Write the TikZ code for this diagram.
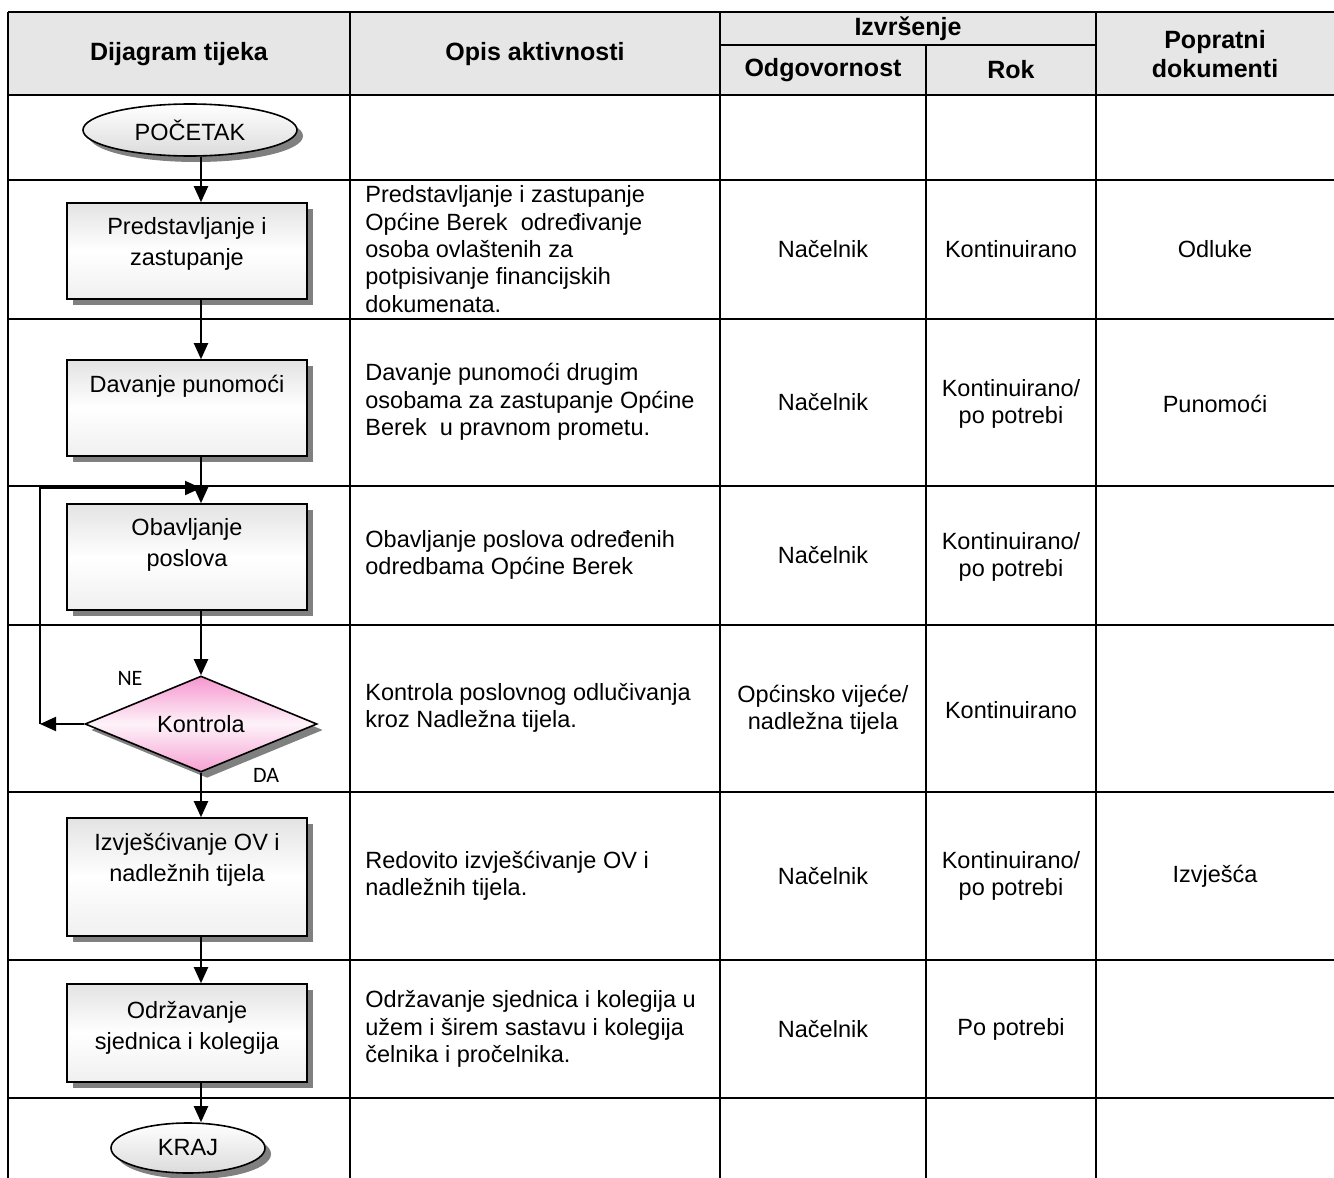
\documentclass[tikz,border=0pt]{standalone}
\usepackage{fontspec}
\setmainfont{Liberation Sans}
\newfontfamily\yesnofont{Carlito}
\usetikzlibrary{shapes.geometric,shadows,arrows.meta,positioning}

\definecolor{headgray}{RGB}{230,230,230}
\definecolor{kontpink}{RGB}{245,150,206}

\tikzset{
  tabline/.style={line width=1pt},
  conn/.style={line width=1pt, -{Triangle[length=8pt,width=7pt]}},
  boxshadow/.style={drop shadow={shadow xshift=3pt, shadow yshift=-3pt, fill=black!50, opacity=1}},
  procbox/.style={draw, line width=0.8pt, rectangle, minimum width=120pt,
    top color=gray!22, bottom color=gray!12, middle color=white, boxshadow},
  termbox/.style={draw, line width=0.8pt, ellipse, inner sep=0pt,
    top color=white, bottom color=gray!28, boxshadow,
    font=\fontsize{11.75}{13.7}\selectfont},
  decbox/.style={draw, line width=0.8pt, diamond, inner sep=0pt, aspect=2.4,
    minimum width=116pt, minimum height=48pt,
    top color=kontpink, bottom color=kontpink!90, middle color=kontpink!12, boxshadow,
    font=\fontsize{11.75}{13.7}\selectfont},
  headtxt/.style={font=\bfseries\fontsize{12.5}{14.5}\selectfont, align=center},
  celltxt/.style={font=\fontsize{11.75}{13.7}\selectfont, align=center},
  desctxt/.style={font=\fontsize{11.75}{13.7}\selectfont, align=left, anchor=west, inner sep=0pt},
  boxtxt/.style={font=\fontsize{11.75}{15.5}\selectfont, align=center},
  yesno/.style={font=\yesnofont\fontsize{11}{13}\selectfont}
}

\begin{document}
\begin{tikzpicture}[x=0.5pt,y=-0.5pt]
  \useasboundingbox (0,0) rectangle (1334,1178);

  \fill[headgray] (8,12) rectangle (1334,95);
  \draw[tabline] (8,12) -- (1334,12)
    (720,45) -- (1096,45)
    (8,95) -- (1334,95)
    (8,180) -- (1334,180)
    (8,319) -- (1334,319)
    (8,486) -- (1334,486)
    (8,625) -- (1334,625)
    (8,792) -- (1334,792)
    (8,960) -- (1334,960)
    (8,1098) -- (1334,1098);
  \draw[tabline] (8,12) -- (8,1178)
    (350,12) -- (350,1178)
    (720,12) -- (720,1178)
    (926,45) -- (926,1178)
    (1096,12) -- (1096,1178);

  \node[headtxt] (hflow) at (179,54) {Dijagram tijeka};
  \node[headtxt] (hdesc) at (535,54) {Opis aktivnosti};
  \node[headtxt] (hexec) at (908,29) {Izvršenje};
  \node[headtxt] (hresp) at (823,70) {Odgovornost};
  \node[headtxt] (hterm) at (1011,70) {Rok};
  \node[headtxt] (hdocs) at (1215,54) {Popratni\\dokumenti};

  \node[termbox, minimum width=107pt, minimum height=26pt] (pocetak) at (190,130) {POČETAK};
  \node[procbox, minimum height=48pt] (pred) at (187,251) {};
  \node[boxtxt] (predtext) at ([yshift=3.5pt]pred.center) {Predstavljanje i\\zastupanje};
  \node[procbox, minimum height=48pt] (dav) at (187,408) {};
  \node[boxtxt] (davtext) at ([yshift=11pt]dav.center) {Davanje punomoći};
  \node[procbox, minimum height=53pt] (obav) at (187,557) {};
  \node[boxtxt] (obavtext) at ([yshift=6pt]obav.center) {Obavljanje\\poslova};
  \node[decbox] (kontrola) at (201,724) {Kontrola};
  \node[procbox, minimum height=59pt] (izv) at (187,877) {};
  \node[boxtxt] (izvtext) at ([yshift=8.5pt]izv.center) {Izvješćivanje OV i\\nadležnih tijela};
  \node[procbox, minimum height=49pt] (odr) at (187,1033) {};
  \node[boxtxt] (odrtext) at ([yshift=2.5pt]odr.center) {Održavanje\\sjednica i kolegija};
  \node[termbox, minimum width=77pt, minimum height=25pt] (kraj) at (188,1148) {KRAJ};

  \node[yesno] (ne) at (130,678) {NE};
  \node[yesno] (da) at (266,775) {DA};

  \coordinate (ret) at (40,724);
  \coordinate (join) at (201,488);

  \draw[conn] (pocetak.south -| kontrola) -- (pred.north -| kontrola);
  \draw[conn] (pred.south -| kontrola) -- (dav.north -| kontrola);
  \draw[conn] (dav.south -| kontrola) -- (obav.north -| kontrola);
  \draw[conn] (obav.south -| kontrola) -- (kontrola.north);
  \draw[conn] (kontrola.south) -- (izv.north -| kontrola);
  \draw[conn] (izv.south -| kontrola) -- (odr.north -| kontrola);
  \draw[conn] (odr.south -| kontrola) -- (kraj.north -| kontrola);
  \draw[conn] (kontrola.west) -- (ret);
  \draw[conn] (ret) |- (join);

  \node[desctxt] (d2) at (365,249) {Predstavljanje i zastupanje\\Općine Berek~ određivanje\\osoba ovlaštenih za\\potpisivanje financijskih\\dokumenata.};
  \node[desctxt] (d3) at (365,402) {Davanje punomoći drugim\\osobama za zastupanje Općine\\Berek~ u pravnom prometu.};
  \node[desctxt] (d4) at (365,555) {Obavljanje poslova određenih\\odredbama Općine Berek};
  \node[desctxt] (d5) at (365,708) {Kontrola poslovnog odlučivanja\\kroz Nadležna tijela.};
  \node[desctxt] (d6) at (365,876) {Redovito izvješćivanje OV i\\nadležnih tijela.};
  \node[desctxt] (d7) at (365,1029) {Održavanje sjednica i kolegija u\\užem i širem sastavu i kolegija\\čelnika i pročelnika.};

  \node[celltxt] (r2) at (823,249) {Načelnik};
  \node[celltxt] (r3) at (823,402) {Načelnik};
  \node[celltxt] (r4) at (823,555) {Načelnik};
  \node[celltxt] (r5) at (823,710) {Općinsko vijeće/\\nadležna tijela};
  \node[celltxt] (r6) at (823,876) {Načelnik};
  \node[celltxt] (r7) at (823,1029) {Načelnik};

  \node[celltxt] (t2) at (1011,249) {Kontinuirano};
  \node[celltxt] (t3) at (1011,404) {Kontinuirano/\\po potrebi};
  \node[celltxt] (t4) at (1011,557) {Kontinuirano/\\po potrebi};
  \node[celltxt] (t5) at (1011,710) {Kontinuirano};
  \node[celltxt] (t6) at (1011,876) {Kontinuirano/\\po potrebi};
  \node[celltxt] (t7) at (1011,1029) {Po potrebi};

  \node[celltxt] (p2) at (1215,249) {Odluke};
  \node[celltxt] (p3) at (1215,404) {Punomoći};
  \node[celltxt] (p6) at (1215,876) {Izvješća};
\end{tikzpicture}
\end{document}
